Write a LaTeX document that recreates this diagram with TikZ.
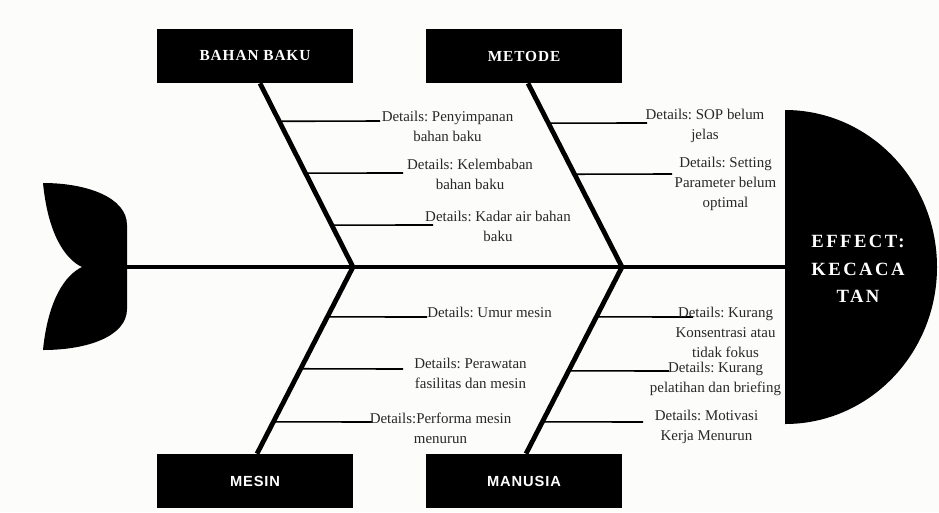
\documentclass[tikz,border=0pt]{standalone}
\usepackage{fontspec}
\setmainfont{Liberation Serif}
\newfontfamily\catserif[LetterSpace=6]{Liberation Serif}
\newfontfamily\catsans[LetterSpace=6]{Liberation Sans}
\newfontfamily\effserif[LetterSpace=13]{Liberation Serif}
\usepackage{xcolor}
\usepackage{tikz}
\usetikzlibrary{calc}
\definecolor{paper}{RGB}{252,252,250}
\definecolor{ink}{RGB}{40,40,40}
\frenchspacing

\tikzset{
  catbox/.style={fill=black, text=white, minimum width=147pt, minimum height=40.5pt,
    font=\catserif\bfseries\fontsize{11.5}{13}\selectfont},
  catsansbox/.style={catbox, font=\catsans\bfseries\fontsize{11}{13}\selectfont},
  detail/.style={text=ink, align=center, inner sep=0pt, font=\fontsize{11.2}{15}\selectfont},
  bone/.style={line width=3.6pt},
  twig/.style={line width=1.2pt}
}

\begin{document}
\begin{tikzpicture}[x=0.75pt,y=-0.75pt]
      \fill [paper] (0,0) rectangle (939,512);
      \useasboundingbox (0,0) rectangle (939,512);
      % tail fin
      \fill (82,267) .. controls (65,259) and (48,234) .. (43,183)
        .. controls (88,183) and (127,198) .. (127,225) -- (127,309)
        .. controls (127,336) and (88,350) .. (43,350)
        .. controls (48,300) and (65,275) .. (82,267) -- cycle;
      % head
      \fill (785,424) arc [start angle=-90, end angle=90, x radius=114pt, y radius=117.75pt] -- cycle;
      \node (effect) at (858,269) [text=white, align=center,
        font=\effserif\bfseries\fontsize{14}{20.5}\selectfont] {EFFECT:\\KECACA\\TAN};
      % spine
      \coordinate (tail) at (127,267);
      \coordinate (head) at (785,267);
      \coordinate (j1) at (353,267);
      \coordinate (j2) at (622,267);
      \draw [line width=3pt] (tail) -- (head);
      % categories
      \node (bahan) at (255,56) [catbox] {BAHAN BAKU};
      \node (metode) at (524,56) [catbox] {METODE};
      \node (mesin) at (255,481) [catsansbox] {MESIN};
      \node (manusia) at (524,481) [catsansbox] {MANUSIA};
      \coordinate (r1) at ([xshift=3.75pt]bahan.south);
      \coordinate (r2) at ([xshift=3pt]metode.south);
      \coordinate (r3) at ([xshift=1.5pt]mesin.north);
      \coordinate (r4) at ([xshift=1.5pt]manusia.north);
      \draw [bone] (r1) -- (j1) -- (r3);
      \draw [bone] (r2) -- (j2) -- (r4);
      % bahan baku
      \coordinate (e11) at (380,121);
      \coordinate (e12) at (403,173);
      \coordinate (e13) at (433,225);
      \draw [twig] ($(r1)!0.207!(j1)$) -- (e11);
      \draw [twig] ($(r1)!0.489!(j1)$) -- (e12);
      \draw [twig] ($(r1)!0.772!(j1)$) -- (e13);
      \node (d11) at (447.5,126) [detail] {Details: Penyimpanan\\bahan baku};
      \node (d12) at (470,174) [detail] {Details: Kelembaban\\bahan baku};
      \node (d13) at (498,226) [detail] {Details: Kadar air bahan\\baku};
      % metode
      \coordinate (e21) at (647,123);
      \coordinate (e22) at (672,174);
      \draw [twig] ($(r2)!0.217!(j2)$) -- (e21);
      \draw [twig] ($(r2)!0.495!(j2)$) -- (e22);
      \node (d21) at (705,126) [detail] {Details: SOP belum\\jelas};
      \node (d22) at (725.5,184) [detail] {Details: Setting\\Parameter belum\\optimal};
      % mesin
      \coordinate (e31) at (427,317);
      \coordinate (e32) at (403,369);
      \coordinate (e33) at (372,422);
      \draw [twig] ($(j1)!0.267!(r3)$) -- (e31);
      \draw [twig] ($(j1)!0.545!(r3)$) -- (e32);
      \draw [twig] ($(j1)!0.829!(r3)$) -- (e33);
      \node (d31) at (489.5,312) [detail] {Details: Umur mesin};
      \node (d32) at (470.5,373) [detail] {Details: Perawatan\\fasilitas dan mesin};
      \node (d33) at (440.5,428) [detail] {Details:Performa mesin\\menurun};
      % manusia
      \coordinate (e41) at (693,317);
      \coordinate (e42) at (669,371);
      \coordinate (e43) at (643,422);
      \draw [twig] ($(j2)!0.267!(r4)$) -- (e41);
      \draw [twig] ($(j2)!0.556!(r4)$) -- (e42);
      \draw [twig] ($(j2)!0.829!(r4)$) -- (e43);
      \node (d41) at (725.5,332) [detail] {Details: Kurang\\Konsentrasi atau\\tidak fokus};
      \node (d42) at (715.5,379) [detail] {Details: Kurang\\pelatihan dan briefing};
      \node (d43) at (706.5,427) [detail] {Details: Motivasi\\Kerja Menurun};
    \end{tikzpicture}
\end{document}
